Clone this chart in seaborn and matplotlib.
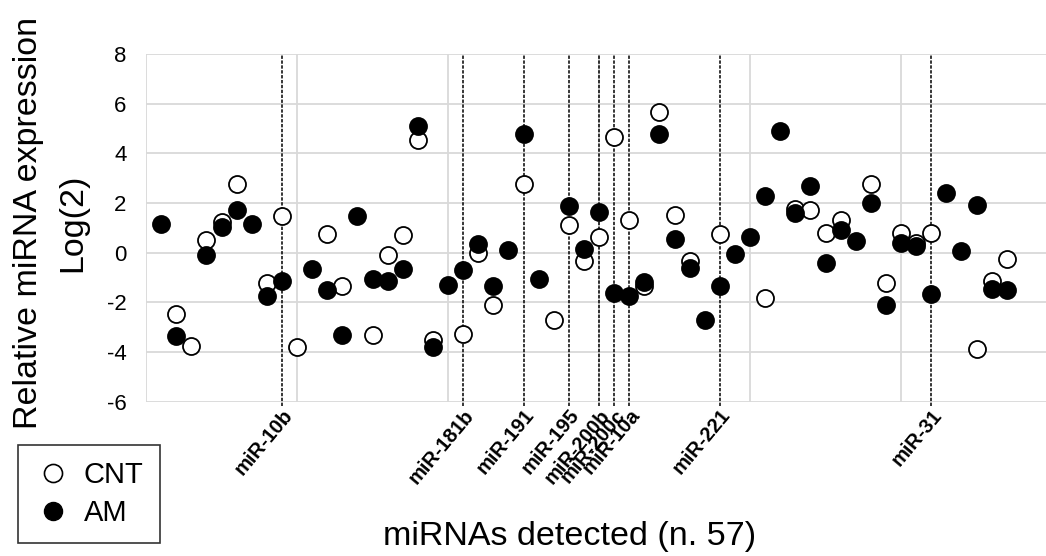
import numpy as np
import pandas as pd
import matplotlib
matplotlib.use("Agg")
import matplotlib.pyplot as plt
from matplotlib.lines import Line2D
import seaborn as sns

# ---- data ----
nan = np.nan
mirna_index = list(range(1, 58))
cnt_values = [nan, -2.45, -3.77, 0.50, 1.23, 2.75, nan, -1.22, 1.46, -3.80,
              nan, 0.76, -1.36, nan, -3.33, -0.11, 0.70, 4.55, -3.53, nan,
              -3.26, 0.00, -2.12, nan, 2.75, nan, -2.70, 1.10, -0.34, 0.63,
              4.66, 1.33, -1.36, 5.66, 1.53, -0.34, nan, 0.76, nan, nan,
              -1.81, nan, 1.77, 1.70, 0.79, 1.33, nan, 2.75, -1.22, 0.79,
              0.38, 0.80, nan, nan, -3.87, -1.14, -0.24]
am_values = [1.17, -3.37, nan, -0.08, 1.03, 1.73, 1.17, -1.76, -1.16, nan,
             -0.65, -1.52, -3.33, 1.46, -1.05, -1.12, -0.65, 5.12, -3.80, -1.32,
             -0.68, 0.33, -1.34, 0.12, 4.76, -1.05, nan, 1.86, 0.16, 1.64,
             -1.62, -1.76, -1.18, 4.76, 0.56, -0.62, -2.70, -1.36, -0.07, 0.63,
             2.27, 4.90, 1.60, 2.67, -0.42, 0.93, 0.47, 2.02, -2.12, 0.39,
             0.25, -1.65, 2.40, 0.07, 1.93, -1.45, -1.52]
highlight_pos = [9, 21, 25, 28, 30, 31, 32, 38, 52]
highlight_labels = ["miR-10b", "miR-181b", "miR-191", "miR-195", "miR-200b",
                    "miR-200c", "miR-10a", "miR-221", "miR-31"]
y_ticks = [-6, -4, -2, 0, 2, 4, 6, 8]

df = pd.DataFrame({"idx": mirna_index, "CNT": cnt_values, "AM": am_values})

sns.set_theme(style="white")
plt.rcParams["font.family"] = ["Liberation Sans", "DejaVu Sans"]
plt.rcParams["text.color"] = "black"
plt.rcParams["xtick.color"] = "black"
plt.rcParams["ytick.color"] = "black"
plt.rcParams["axes.labelcolor"] = "black"

fig = plt.figure(figsize=(10.46, 5.56), dpi=100)
ax = fig.add_axes([146 / 1046, 1 - 401.7 / 556, 1 - 146 / 1046, (401.7 - 54) / 556])

grid_c = "#d9d9d9"
ax.set_ylim(-6, 8)
ax.set_xlim(0, 900 / 15.1)
ax.set_yticks(y_ticks)
ax.set_yticklabels([str(v) for v in y_ticks], fontsize=16)
for v in y_ticks:
    ax.axhline(v, color=grid_c, lw=1.3, zorder=0)
for v in [10, 20, 30, 40, 50]:
    ax.axvline(v, color=grid_c, lw=1.3, zorder=0)
ax.axvline(0, color=grid_c, lw=1.3, zorder=0)
for s in ax.spines.values():
    s.set_visible(False)

# highlighted miRNAs: dashed lines
for p in highlight_pos:
    ax.axvline(p, ymin=-0.012, ymax=1, color="black", lw=1.1,
               ls=(0, (2.2, 1.0)), clip_on=False, zorder=1)

sns.scatterplot(data=df, x="idx", y="CNT", ax=ax, s=150, marker="o",
                facecolor="white", edgecolor="black", linewidth=1.3,
                zorder=3, legend=False)
sns.scatterplot(data=df, x="idx", y="AM", ax=ax, s=150, marker="o",
                color="black", edgecolor="black", linewidth=1.3,
                zorder=4, legend=False)

ax.set_xticks(highlight_pos)
ax.set_xticklabels(highlight_labels, rotation=50, ha="right",
                   rotation_mode="anchor", fontsize=14.5, fontweight="bold")
ax.tick_params(axis="x", length=0, pad=3)
ax.tick_params(axis="y", length=0, pad=14)
ax.set_xlabel("")
ax.set_ylabel("Relative miRNA expression\nLog(2)", fontsize=24.5, linespacing=1.55)
ax.yaxis.set_label_coords(-0.064, 0.515)

fig.text(570 / 1046, 1 - 537 / 556, "miRNAs detected (n. 57)", fontsize=24.5,
         ha="center", va="center")

handles = [
    Line2D([], [], ls="none", marker="o", markersize=13, markerfacecolor="white",
           markeredgecolor="black", markeredgewidth=1.2, label="CNT"),
    Line2D([], [], ls="none", marker="o", markersize=13, markerfacecolor="black",
           markeredgecolor="black", label="AM"),
]
leg = fig.legend(handles=handles, loc="center", bbox_to_anchor=(89 / 1046, 1 - 494 / 556),
                 fontsize=21, frameon=True, fancybox=False, edgecolor="black",
                 handletextpad=0.4, borderpad=0.55, labelspacing=0.35,
                 handlelength=1.3, borderaxespad=0)
leg.get_frame().set_linewidth(1.2)

fig.savefig("out.png", dpi=100)
